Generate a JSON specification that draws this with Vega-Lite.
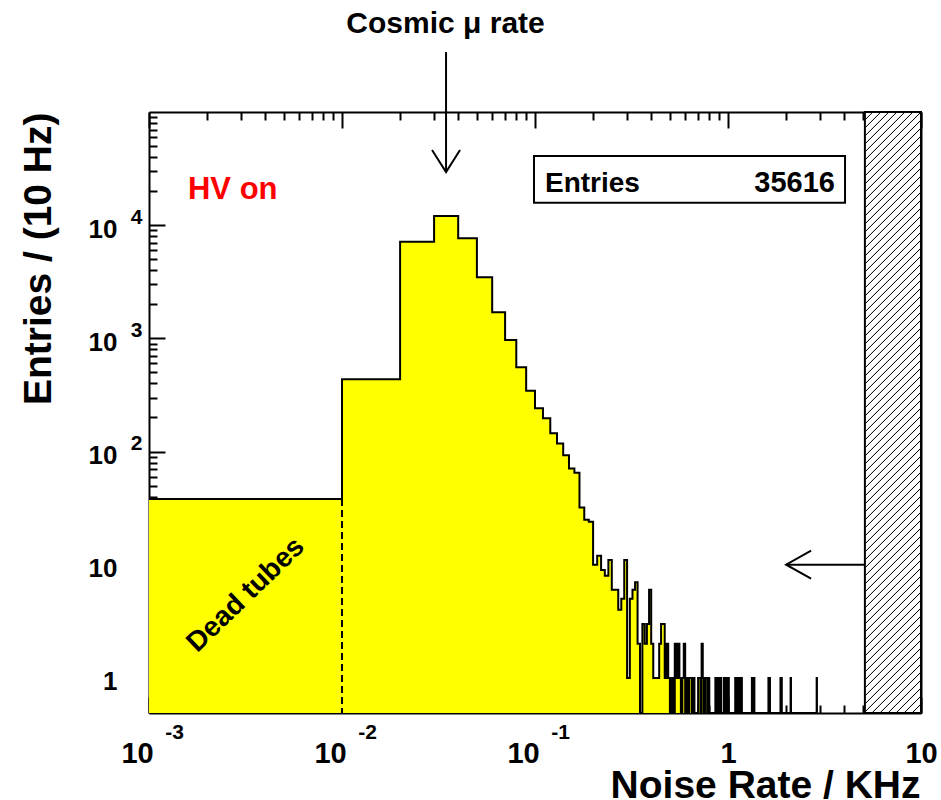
{
  "$schema": "https://vega.github.io/schema/vega-lite/v6.json",
  "width": 772,
  "height": 601,
  "autosize": "none",
  "padding": {"left": 149, "top": 112, "right": 20, "bottom": 87},
  "background": "white",
  "config": {
    "view": {"stroke": null},
    "axis": {"grid": false, "labelFont": "Liberation Sans", "labelFontWeight": "bold", "labelColor": "black", "titleFont": "Liberation Sans", "titleFontWeight": "bold", "titleColor": "black", "labelOverlap": false, "labelFlush": false, "labelBound": false, "tickColor": "black", "domainColor": "black", "zindex": 2}
  },
  "data": {"values": [
    {"lo":0,"n":38},{"lo":0.01,"n":435},{"lo":0.02,"n":7140},{"lo":0.03,"n":12050},{"lo":0.04,"n":7650},{"lo":0.05,"n":3460},{"lo":0.06,"n":1700},{"lo":0.07,"n":968},{"lo":0.08,"n":556},{"lo":0.09,"n":345},
    {"lo":0.10,"n":241},{"lo":0.11,"n":197},{"lo":0.12,"n":145},{"lo":0.13,"n":118},{"lo":0.14,"n":93},{"lo":0.15,"n":71},{"lo":0.16,"n":65},{"lo":0.17,"n":32},{"lo":0.18,"n":25},{"lo":0.19,"n":24},
    {"lo":0.20,"n":10},{"lo":0.21,"n":12},{"lo":0.22,"n":9},{"lo":0.23,"n":8},{"lo":0.24,"n":11},{"lo":0.25,"n":6},{"lo":0.26,"n":6},{"lo":0.27,"n":4},{"lo":0.28,"n":5},{"lo":0.29,"n":11},
    {"lo":0.30,"n":1},{"lo":0.31,"n":5},{"lo":0.32,"n":6},{"lo":0.33,"n":7},{"lo":0.34,"n":2},{"lo":0.35,"n":0},{"lo":0.36,"n":3},{"lo":0.37,"n":2},{"lo":0.38,"n":3},{"lo":0.39,"n":6},
    {"lo":0.40,"n":2},{"lo":0.41,"n":1},{"lo":0.42,"n":1},{"lo":0.43,"n":1},{"lo":0.44,"n":2},{"lo":0.45,"n":3},{"lo":0.46,"n":3},{"lo":0.47,"n":1},{"lo":0.48,"n":2},{"lo":0.49,"n":1},
    {"lo":0.50,"n":0},{"lo":0.51,"n":1},{"lo":0.52,"n":0},{"lo":0.53,"n":2},{"lo":0.54,"n":1},{"lo":0.55,"n":2},{"lo":0.56,"n":1},{"lo":0.57,"n":0},{"lo":0.58,"n":1},{"lo":0.59,"n":2},
    {"lo":0.60,"n":0},{"lo":0.61,"n":1},{"lo":0.62,"n":0},{"lo":0.63,"n":1},{"lo":0.64,"n":1},{"lo":0.65,"n":0},{"lo":0.66,"n":1},{"lo":0.67,"n":0},
    {"lo":0.70,"n":1},{"lo":0.71,"n":1},{"lo":0.72,"n":0},{"lo":0.73,"n":2},{"lo":0.74,"n":1},{"lo":0.75,"n":0},{"lo":0.76,"n":1},{"lo":0.77,"n":1},{"lo":0.78,"n":0},{"lo":0.79,"n":1},
    {"lo":0.80,"n":0},{"lo":0.86,"n":1},{"lo":0.87,"n":0},{"lo":0.88,"n":1},{"lo":0.89,"n":1},{"lo":0.90,"n":0},{"lo":0.91,"n":1},{"lo":0.92,"n":0},
    {"lo":0.95,"n":1},{"lo":0.96,"n":0},{"lo":0.97,"n":1},{"lo":0.98,"n":1},{"lo":0.99,"n":0},{"lo":1.00,"n":1},{"lo":1.01,"n":0},
    {"lo":1.09,"n":1},{"lo":1.10,"n":1},{"lo":1.11,"n":0},{"lo":1.12,"n":1},{"lo":1.13,"n":0},{"lo":1.14,"n":1},{"lo":1.15,"n":1},{"lo":1.16,"n":0},{"lo":1.17,"n":1},{"lo":1.18,"n":0},
    {"lo":1.33,"n":1},{"lo":1.34,"n":0},{"lo":1.36,"n":1},{"lo":1.37,"n":0},{"lo":1.62,"n":1},{"lo":1.63,"n":0},{"lo":1.64,"n":1},{"lo":1.65,"n":0},
    {"lo":1.87,"n":1},{"lo":1.88,"n":0},{"lo":1.89,"n":1},{"lo":1.90,"n":0},{"lo":2.11,"n":1},{"lo":2.12,"n":0},{"lo":2.88,"n":1},{"lo":2.89,"n":0}
  ]},
  "resolve": {"scale": {"y": "independent"}, "axis": {"x": "independent", "y": "independent"}},
  "layer": [
    {
      "mark": {"type": "area", "interpolate": "step-after", "color": "#ffff00", "opacity": 1, "fillOpacity": 1},
      "encoding": {
        "x": {"field": "lo", "type": "quantitative",
          "scale": {"type": "log", "domain": [0.001, 10], "clamp": true, "nice": false},
          "axis": {"orient": "bottom", "values": [0.001,0.002,0.003,0.004,0.005,0.006,0.007,0.008,0.009,0.01,0.02,0.03,0.04,0.05,0.06,0.07,0.08,0.09,0.1,0.2,0.3,0.4,0.5,0.6,0.7,0.8,0.9,1,2,3,4,5,6,7,8,9,10],
            "labels": false, "tickWidth": 2, "domainWidth": 2, "title": null,
            "tickSize": {"condition": {"test": "indexof([0.001,0.01,0.1,1,10], datum.value) >= 0", "value": -16}, "value": -8}}},
        "y": {"field": "n", "type": "quantitative",
          "scale": {"type": "log", "domain": [0.49, 100000], "clamp": true, "nice": false},
          "axis": {"orient": "left", "values": [0.5,0.6,0.7,0.8,0.9,1,2,3,4,5,6,7,8,9,10,20,30,40,50,60,70,80,90,100,200,300,400,500,600,700,800,900,1000,2000,3000,4000,5000,6000,7000,8000,9000,10000,20000,30000,40000,50000,60000,70000,80000,90000],
            "labels": false, "tickWidth": 2, "domainWidth": 2, "title": null,
            "tickSize": {"condition": {"test": "indexof([1,10,100,1000,10000], datum.value) >= 0", "value": -16}, "value": -8}}}
      }
    },
    {
      "data": {"values": [{}]},
      "mark": {"type": "rect", "stroke": "black", "strokeWidth": 2,
        "fill": {"gradient": "linear", "x1": 0, "y1": 0, "x2": 0.12296, "y2": 1.31966, "stops": [
          {"offset":0,"color":"#000"},{"offset":0.0013,"color":"#fff"},{"offset":0.0087,"color":"#fff"},
          {"offset":0.01,"color":"#000"},{"offset":0.0113,"color":"#fff"},{"offset":0.0187,"color":"#fff"},
          {"offset":0.02,"color":"#000"},{"offset":0.0213,"color":"#fff"},{"offset":0.0287,"color":"#fff"},
          {"offset":0.03,"color":"#000"},{"offset":0.0313,"color":"#fff"},{"offset":0.0387,"color":"#fff"},
          {"offset":0.04,"color":"#000"},{"offset":0.0413,"color":"#fff"},{"offset":0.0487,"color":"#fff"},
          {"offset":0.05,"color":"#000"},{"offset":0.0513,"color":"#fff"},{"offset":0.0587,"color":"#fff"},
          {"offset":0.06,"color":"#000"},{"offset":0.0613,"color":"#fff"},{"offset":0.0687,"color":"#fff"},
          {"offset":0.07,"color":"#000"},{"offset":0.0713,"color":"#fff"},{"offset":0.0787,"color":"#fff"},
          {"offset":0.08,"color":"#000"},{"offset":0.0813,"color":"#fff"},{"offset":0.0887,"color":"#fff"},
          {"offset":0.09,"color":"#000"},{"offset":0.0913,"color":"#fff"},{"offset":0.0987,"color":"#fff"},
          {"offset":0.10,"color":"#000"},{"offset":0.1013,"color":"#fff"},{"offset":0.1087,"color":"#fff"},
          {"offset":0.11,"color":"#000"},{"offset":0.1113,"color":"#fff"},{"offset":0.1187,"color":"#fff"},
          {"offset":0.12,"color":"#000"},{"offset":0.1213,"color":"#fff"},{"offset":0.1287,"color":"#fff"},
          {"offset":0.13,"color":"#000"},{"offset":0.1313,"color":"#fff"},{"offset":0.1387,"color":"#fff"},
          {"offset":0.14,"color":"#000"},{"offset":0.1413,"color":"#fff"},{"offset":0.1487,"color":"#fff"},
          {"offset":0.15,"color":"#000"},{"offset":0.1513,"color":"#fff"},{"offset":0.1587,"color":"#fff"},
          {"offset":0.16,"color":"#000"},{"offset":0.1613,"color":"#fff"},{"offset":0.1687,"color":"#fff"},
          {"offset":0.17,"color":"#000"},{"offset":0.1713,"color":"#fff"},{"offset":0.1787,"color":"#fff"},
          {"offset":0.18,"color":"#000"},{"offset":0.1813,"color":"#fff"},{"offset":0.1887,"color":"#fff"},
          {"offset":0.19,"color":"#000"},{"offset":0.1913,"color":"#fff"},{"offset":0.1987,"color":"#fff"},
          {"offset":0.20,"color":"#000"},{"offset":0.2013,"color":"#fff"},{"offset":0.2087,"color":"#fff"},
          {"offset":0.21,"color":"#000"},{"offset":0.2113,"color":"#fff"},{"offset":0.2187,"color":"#fff"},
          {"offset":0.22,"color":"#000"},{"offset":0.2213,"color":"#fff"},{"offset":0.2287,"color":"#fff"},
          {"offset":0.23,"color":"#000"},{"offset":0.2313,"color":"#fff"},{"offset":0.2387,"color":"#fff"},
          {"offset":0.24,"color":"#000"},{"offset":0.2413,"color":"#fff"},{"offset":0.2487,"color":"#fff"},
          {"offset":0.25,"color":"#000"},{"offset":0.2513,"color":"#fff"},{"offset":0.2587,"color":"#fff"},
          {"offset":0.26,"color":"#000"},{"offset":0.2613,"color":"#fff"},{"offset":0.2687,"color":"#fff"},
          {"offset":0.27,"color":"#000"},{"offset":0.2713,"color":"#fff"},{"offset":0.2787,"color":"#fff"},
          {"offset":0.28,"color":"#000"},{"offset":0.2813,"color":"#fff"},{"offset":0.2887,"color":"#fff"},
          {"offset":0.29,"color":"#000"},{"offset":0.2913,"color":"#fff"},{"offset":0.2987,"color":"#fff"},
          {"offset":0.30,"color":"#000"},{"offset":0.3013,"color":"#fff"},{"offset":0.3087,"color":"#fff"},
          {"offset":0.31,"color":"#000"},{"offset":0.3113,"color":"#fff"},{"offset":0.3187,"color":"#fff"},
          {"offset":0.32,"color":"#000"},{"offset":0.3213,"color":"#fff"},{"offset":0.3287,"color":"#fff"},
          {"offset":0.33,"color":"#000"},{"offset":0.3313,"color":"#fff"},{"offset":0.3387,"color":"#fff"},
          {"offset":0.34,"color":"#000"},{"offset":0.3413,"color":"#fff"},{"offset":0.3487,"color":"#fff"},
          {"offset":0.35,"color":"#000"},{"offset":0.3513,"color":"#fff"},{"offset":0.3587,"color":"#fff"},
          {"offset":0.36,"color":"#000"},{"offset":0.3613,"color":"#fff"},{"offset":0.3687,"color":"#fff"},
          {"offset":0.37,"color":"#000"},{"offset":0.3713,"color":"#fff"},{"offset":0.3787,"color":"#fff"},
          {"offset":0.38,"color":"#000"},{"offset":0.3813,"color":"#fff"},{"offset":0.3887,"color":"#fff"},
          {"offset":0.39,"color":"#000"},{"offset":0.3913,"color":"#fff"},{"offset":0.3987,"color":"#fff"},
          {"offset":0.40,"color":"#000"},{"offset":0.4013,"color":"#fff"},{"offset":0.4087,"color":"#fff"},
          {"offset":0.41,"color":"#000"},{"offset":0.4113,"color":"#fff"},{"offset":0.4187,"color":"#fff"},
          {"offset":0.42,"color":"#000"},{"offset":0.4213,"color":"#fff"},{"offset":0.4287,"color":"#fff"},
          {"offset":0.43,"color":"#000"},{"offset":0.4313,"color":"#fff"},{"offset":0.4387,"color":"#fff"},
          {"offset":0.44,"color":"#000"},{"offset":0.4413,"color":"#fff"},{"offset":0.4487,"color":"#fff"},
          {"offset":0.45,"color":"#000"},{"offset":0.4513,"color":"#fff"},{"offset":0.4587,"color":"#fff"},
          {"offset":0.46,"color":"#000"},{"offset":0.4613,"color":"#fff"},{"offset":0.4687,"color":"#fff"},
          {"offset":0.47,"color":"#000"},{"offset":0.4713,"color":"#fff"},{"offset":0.4787,"color":"#fff"},
          {"offset":0.48,"color":"#000"},{"offset":0.4813,"color":"#fff"},{"offset":0.4887,"color":"#fff"},
          {"offset":0.49,"color":"#000"},{"offset":0.4913,"color":"#fff"},{"offset":0.4987,"color":"#fff"},
          {"offset":0.50,"color":"#000"},{"offset":0.5013,"color":"#fff"},{"offset":0.5087,"color":"#fff"},
          {"offset":0.51,"color":"#000"},{"offset":0.5113,"color":"#fff"},{"offset":0.5187,"color":"#fff"},
          {"offset":0.52,"color":"#000"},{"offset":0.5213,"color":"#fff"},{"offset":0.5287,"color":"#fff"},
          {"offset":0.53,"color":"#000"},{"offset":0.5313,"color":"#fff"},{"offset":0.5387,"color":"#fff"},
          {"offset":0.54,"color":"#000"},{"offset":0.5413,"color":"#fff"},{"offset":0.5487,"color":"#fff"},
          {"offset":0.55,"color":"#000"},{"offset":0.5513,"color":"#fff"},{"offset":0.5587,"color":"#fff"},
          {"offset":0.56,"color":"#000"},{"offset":0.5613,"color":"#fff"},{"offset":0.5687,"color":"#fff"},
          {"offset":0.57,"color":"#000"},{"offset":0.5713,"color":"#fff"},{"offset":0.5787,"color":"#fff"},
          {"offset":0.58,"color":"#000"},{"offset":0.5813,"color":"#fff"},{"offset":0.5887,"color":"#fff"},
          {"offset":0.59,"color":"#000"},{"offset":0.5913,"color":"#fff"},{"offset":0.5987,"color":"#fff"},
          {"offset":0.60,"color":"#000"},{"offset":0.6013,"color":"#fff"},{"offset":0.6087,"color":"#fff"},
          {"offset":0.61,"color":"#000"},{"offset":0.6113,"color":"#fff"},{"offset":0.6187,"color":"#fff"},
          {"offset":0.62,"color":"#000"},{"offset":0.6213,"color":"#fff"},{"offset":0.6287,"color":"#fff"},
          {"offset":0.63,"color":"#000"},{"offset":0.6313,"color":"#fff"},{"offset":0.6387,"color":"#fff"},
          {"offset":0.64,"color":"#000"},{"offset":0.6413,"color":"#fff"},{"offset":0.6487,"color":"#fff"},
          {"offset":0.65,"color":"#000"},{"offset":0.6513,"color":"#fff"},{"offset":0.6587,"color":"#fff"},
          {"offset":0.66,"color":"#000"},{"offset":0.6613,"color":"#fff"},{"offset":0.6687,"color":"#fff"},
          {"offset":0.67,"color":"#000"},{"offset":0.6713,"color":"#fff"},{"offset":0.6787,"color":"#fff"},
          {"offset":0.68,"color":"#000"},{"offset":0.6813,"color":"#fff"},{"offset":0.6887,"color":"#fff"},
          {"offset":0.69,"color":"#000"},{"offset":0.6913,"color":"#fff"},{"offset":0.6987,"color":"#fff"},
          {"offset":0.70,"color":"#000"},{"offset":0.7013,"color":"#fff"},{"offset":0.7087,"color":"#fff"},
          {"offset":0.71,"color":"#000"},{"offset":0.7113,"color":"#fff"},{"offset":0.7187,"color":"#fff"},
          {"offset":0.72,"color":"#000"},{"offset":0.7213,"color":"#fff"},{"offset":0.7287,"color":"#fff"},
          {"offset":0.73,"color":"#000"},{"offset":0.7313,"color":"#fff"},{"offset":0.7387,"color":"#fff"},
          {"offset":0.74,"color":"#000"},{"offset":0.7413,"color":"#fff"},{"offset":0.7487,"color":"#fff"},
          {"offset":0.75,"color":"#000"},{"offset":0.7513,"color":"#fff"},{"offset":0.7587,"color":"#fff"},
          {"offset":0.76,"color":"#000"},{"offset":0.7613,"color":"#fff"},{"offset":0.7687,"color":"#fff"},
          {"offset":0.77,"color":"#000"},{"offset":0.7713,"color":"#fff"},{"offset":0.7787,"color":"#fff"},
          {"offset":0.78,"color":"#000"},{"offset":0.7813,"color":"#fff"},{"offset":0.7887,"color":"#fff"},
          {"offset":0.79,"color":"#000"},{"offset":0.7913,"color":"#fff"},{"offset":0.7987,"color":"#fff"},
          {"offset":0.80,"color":"#000"},{"offset":0.8013,"color":"#fff"},{"offset":0.8087,"color":"#fff"},
          {"offset":0.81,"color":"#000"},{"offset":0.8113,"color":"#fff"},{"offset":0.8187,"color":"#fff"},
          {"offset":0.82,"color":"#000"},{"offset":0.8213,"color":"#fff"},{"offset":1,"color":"#fff"}
        ]}},
      "encoding": {
        "x": {"datum": 5.12, "type": "quantitative",
          "axis": {"orient": "top", "values": [0.001,0.002,0.003,0.004,0.005,0.006,0.007,0.008,0.009,0.01,0.02,0.03,0.04,0.05,0.06,0.07,0.08,0.09,0.1,0.2,0.3,0.4,0.5,0.6,0.7,0.8,0.9,1,2,3,4,5,6,7,8,9,10],
            "labels": false, "tickWidth": 2, "domainWidth": 2, "title": null,
            "tickSize": {"condition": {"test": "indexof([0.001,0.01,0.1,1,10], datum.value) >= 0", "value": -16}, "value": -8}}},
        "x2": {"datum": 10}
      }
    },
    {
      "mark": {"type": "line", "interpolate": "step-after", "color": "black", "strokeWidth": 2, "strokeJoin": "miter"},
      "encoding": {
        "x": {"field": "lo", "type": "quantitative",
          "axis": {"orient": "bottom", "values": [0.001, 0.01, 0.1, 1, 10], "ticks": false, "domain": false,
            "labelExpr": "datum.value == 1 ? '1' : '10'", "labelFontSize": 29, "labelBaseline": "alphabetic", "labelAlign": "center", "labelPadding": 49,
            "labelOffset": {"condition": {"test": "datum.value < 0.5", "value": -12}, "value": 0},
            "title": "Noise Rate / KHz", "titleX": 771, "titleY": 84, "titleAlign": "right", "titleBaseline": "alphabetic", "titleFontSize": 39}},
        "y": {"field": "n", "type": "quantitative",
          "scale": {"type": "log", "domain": [0.49, 100000], "clamp": true, "nice": false},
          "axis": {"orient": "left", "values": [1, 10, 100, 1000, 10000], "ticks": false, "domain": false,
            "labelExpr": "datum.value == 1 ? '1' : '10'", "labelFontSize": 26, "labelAlign": "right", "labelBaseline": "alphabetic", "labelPadding": 32, "labelOffset": 12,
            "title": "Entries / (10 Hz)", "titleAngle": 270, "titleAlign": "right", "titleBaseline": "alphabetic", "titleX": -99, "titleY": 0, "titleFontSize": 39}}
      }
    },
    {
      "data": {"values": [{}]},
      "mark": {"type": "rule", "color": "black", "strokeWidth": 2, "strokeDash": [7, 4]},
      "encoding": {
        "x": {"datum": 0.01, "type": "quantitative",
          "axis": {"orient": "bottom", "values": [0.001, 0.01, 0.1], "ticks": false, "domain": false,
            "labelExpr": "'' + round(log(datum.value) / LN10)", "labelFontSize": 21, "labelBaseline": "alphabetic", "labelAlign": "center", "labelPadding": 25, "labelOffset": 25, "title": null}},
        "y": {"datum": 38, "type": "quantitative",
          "scale": {"type": "log", "domain": [0.49, 100000], "nice": false},
          "axis": {"orient": "left", "values": [100, 1000, 10000], "ticks": false, "domain": false,
            "labelExpr": "'' + round(log(datum.value) / LN10)", "labelFontSize": 21, "labelAlign": "right", "labelBaseline": "alphabetic", "labelPadding": 7, "labelOffset": -2, "title": null}},
        "y2": {"datum": 0.49}
      }
    },
    {
      "data": {"values": [{}]},
      "mark": {"type": "text", "text": "HV on", "color": "#ff0000", "font": "Liberation Sans", "fontWeight": "bold", "fontSize": 31, "align": "left", "baseline": "alphabetic"},
      "encoding": {
        "x": {"datum": 0.001592, "type": "quantitative", "axis": null},
        "y": {"datum": 17020, "type": "quantitative",
          "scale": {"type": "log", "domain": [0.49, 100000], "nice": false},
          "axis": {"orient": "right", "values": [0.5,0.6,0.7,0.8,0.9,1,2,3,4,5,6,7,8,9,10,20,30,40,50,60,70,80,90,100,200,300,400,500,600,700,800,900,1000,2000,3000,4000,5000,6000,7000,8000,9000,10000,20000,30000,40000,50000,60000,70000,80000,90000],
            "labels": false, "tickWidth": 2, "domainWidth": 2, "title": null,
            "tickSize": {"condition": {"test": "indexof([1,10,100,1000,10000], datum.value) >= 0", "value": -16}, "value": -8}}}
      }
    },
    {
      "data": {"values": [{}]},
      "mark": {"type": "text", "text": "Dead tubes", "color": "black", "font": "Liberation Sans", "fontWeight": "bold", "fontSize": 28, "align": "center", "baseline": "middle", "angle": -44},
      "encoding": {
        "x": {"datum": 0.00318, "type": "quantitative", "axis": null},
        "y": {"datum": 5.4, "type": "quantitative", "scale": {"type": "log", "domain": [0.49, 100000], "nice": false}, "axis": null}
      }
    },
    {
      "data": {"values": [{}]},
      "mark": {"type": "rect", "fill": "white", "stroke": "black", "strokeWidth": 2},
      "encoding": {
        "x": {"datum": 0.0988, "type": "quantitative", "axis": null},
        "x2": {"datum": 4.04},
        "y": {"datum": 40800, "type": "quantitative", "scale": {"type": "log", "domain": [0.49, 100000], "nice": false}, "axis": null},
        "y2": {"datum": 15780}
      }
    },
    {
      "data": {"values": [{}]},
      "mark": {"type": "text", "text": "Entries", "color": "black", "font": "Liberation Sans", "fontWeight": "bold", "fontSize": 28, "align": "left", "baseline": "alphabetic"},
      "encoding": {
        "x": {"datum": 0.1127, "type": "quantitative", "axis": null},
        "y": {"datum": 19750, "type": "quantitative", "scale": {"type": "log", "domain": [0.49, 100000], "nice": false}, "axis": null}
      }
    },
    {
      "data": {"values": [{}]},
      "mark": {"type": "text", "text": "35616", "color": "black", "font": "Liberation Sans", "fontWeight": "bold", "fontSize": 29, "align": "right", "baseline": "alphabetic"},
      "encoding": {
        "x": {"datum": 3.584, "type": "quantitative", "axis": null},
        "y": {"datum": 19750, "type": "quantitative", "scale": {"type": "log", "domain": [0.49, 100000], "nice": false}, "axis": null}
      }
    },
    {
      "data": {"values": [{}]},
      "mark": {"type": "text", "text": "Cosmic μ rate", "color": "black", "font": "Liberation Sans", "fontWeight": "bold", "fontSize": 30, "align": "center", "baseline": "alphabetic"},
      "encoding": {
        "x": {"datum": 0.0344, "type": "quantitative", "axis": null},
        "y": {"datum": 498000, "type": "quantitative", "scale": {"type": "log", "domain": [0.49, 100000], "nice": false}, "axis": null}
      }
    },
    {
      "data": {"values": [{}]},
      "mark": {"type": "rule", "color": "black", "strokeWidth": 2},
      "encoding": {
        "x": {"datum": 0.0346, "type": "quantitative", "axis": null},
        "y": {"datum": 29480, "type": "quantitative", "scale": {"type": "log", "domain": [0.49, 100000], "nice": false}, "axis": null},
        "y2": {"datum": 338500}
      }
    },
    {
      "data": {"values": [{}]},
      "mark": {"type": "point", "shape": "M-1,-1.571L0,0L1,-1.571", "size": 784, "filled": false, "color": "black", "strokeWidth": 2, "opacity": 1},
      "encoding": {
        "x": {"datum": 0.0346, "type": "quantitative", "axis": null},
        "y": {"datum": 29480, "type": "quantitative", "scale": {"type": "log", "domain": [0.49, 100000], "nice": false}, "axis": null}
      }
    },
    {
      "data": {"values": [{}]},
      "mark": {"type": "rule", "color": "black", "strokeWidth": 2},
      "encoding": {
        "x": {"datum": 2, "type": "quantitative", "axis": null},
        "x2": {"datum": 5.12},
        "y": {"datum": 10, "type": "quantitative", "scale": {"type": "log", "domain": [0.49, 100000], "nice": false}, "axis": null}
      }
    },
    {
      "data": {"values": [{}]},
      "mark": {"type": "point", "shape": "M1.786,-1L0,0L1.786,1", "size": 784, "filled": false, "color": "black", "strokeWidth": 2, "opacity": 1},
      "encoding": {
        "x": {"datum": 2, "type": "quantitative", "axis": null},
        "y": {"datum": 10, "type": "quantitative", "scale": {"type": "log", "domain": [0.49, 100000], "nice": false}, "axis": null}
      }
    }
  ]
}
